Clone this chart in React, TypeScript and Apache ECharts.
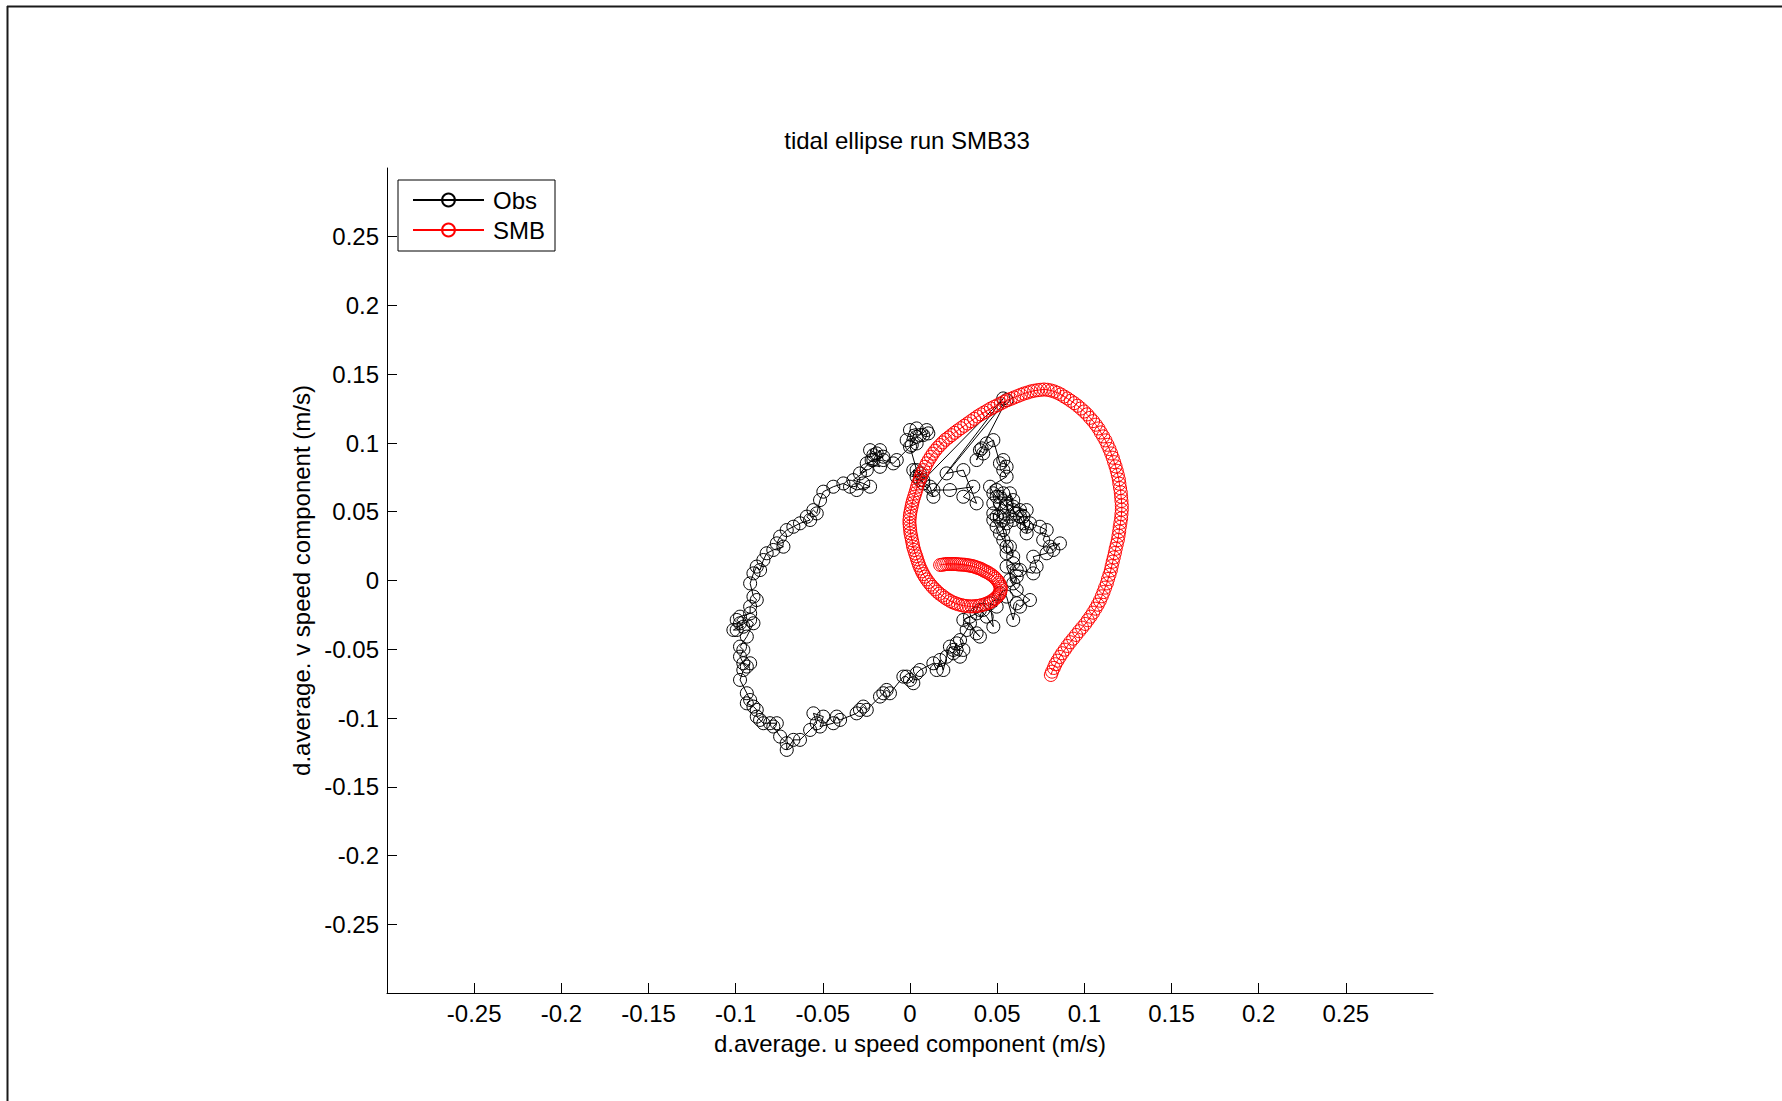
import React, { useEffect, useRef } from 'react';
import * as echarts from 'echarts';

const titleText = 'tidal ellipse run SMB33';
const xAxisName = 'd.average. u speed component (m/s)';
const yAxisName = 'd.average. v speed component (m/s)';
const axisMin = -0.3;
const axisMax = 0.3;
const xTicks = [-0.25, -0.2, -0.15, -0.1, -0.05, 0, 0.05, 0.1, 0.15, 0.2, 0.25];
const yTicks = [-0.25, -0.2, -0.15, -0.1, -0.05, 0, 0.05, 0.1, 0.15, 0.2, 0.25];
const seriesNames = ['Obs', 'SMB'];

// Observed depth-averaged velocity (u, v) in m/s
const obsData: number[][] = [
  [0.0401, -0.0214], [0.0440, -0.0263], [0.0478, -0.0336], [0.0459, -0.0166], [0.0497, -0.0190],
  [0.0516, -0.0093], [0.0554, -0.0117], [0.0592, -0.0287], [0.0612, -0.0166], [0.0631, -0.0190],
  [0.0688, -0.0142], [0.0612, -0.0069], [0.0573, 0.0004], [0.0612, 0.0028], [0.0592, -0.0021],
  [0.0554, 0.0101], [0.0592, 0.0125], [0.0612, 0.0076], [0.0631, 0.0076], [0.0707, 0.0052],
  [0.0726, 0.0101], [0.0707, 0.0173], [0.0784, 0.0198], [0.0803, 0.0246], [0.0860, 0.0270],
  [0.0822, 0.0222], [0.0764, 0.0295], [0.0784, 0.0367], [0.0745, 0.0391], [0.0688, 0.0416],
  [0.0669, 0.0343], [0.0650, 0.0464], [0.0631, 0.0512], [0.0669, 0.0512], [0.0592, 0.0537],
  [0.0554, 0.0561], [0.0573, 0.0464], [0.0554, 0.0416], [0.0535, 0.0367], [0.0554, 0.0246],
  [0.0554, 0.0198], [0.0592, 0.0173], [0.0573, 0.0246], [0.0535, 0.0295], [0.0516, 0.0343],
  [0.0497, 0.0391], [0.0478, 0.0440], [0.0478, 0.0488], [0.0516, 0.0464], [0.0478, 0.0561],
  [0.0516, 0.0609], [0.0497, 0.0658], [0.0535, 0.0634], [0.0592, 0.0585], [0.0573, 0.0634],
  [0.0592, 0.0512], [0.0612, 0.0488], [0.0631, 0.0464], [0.0650, 0.0416], [0.0669, 0.0391],
  [0.0592, 0.0440], [0.0535, 0.0440], [0.0497, 0.0464], [0.0516, 0.0561], [0.0554, 0.0537],
  [0.0497, 0.0609], [0.0478, 0.0634], [0.0459, 0.0682],
  [0.0554, 0.0755], [0.0535, 0.0803], [0.0554, 0.0827], [0.0535, 0.0876], [0.0516, 0.0852],
  [0.0478, 0.1021], [0.0440, 0.0997], [0.0420, 0.0924], [0.0401, 0.0948], [0.0382, 0.0876],
  [0.0411, 0.0961], [0.0554, 0.1312], [0.0210, 0.0779], [0.0306, 0.0803], [0.0382, 0.0561],
  [0.0306, 0.0609], [0.0363, 0.0682], [0.0229, 0.0658], [0.0134, 0.0658], [0.0535, 0.1324],
  [0.0076, 0.0730], [0.0057, 0.0779], [0.0019, 0.0803], [0.0038, 0.0755], [0.0057, 0.0730],
  [0.0115, 0.0682], [0.0134, 0.0609], [0.0076, 0.0706], [0.0038, 0.0803], [0.0000, 0.0973],
  [0.0038, 0.0997], [-0.0019, 0.1021], [0.0000, 0.1094], [0.0038, 0.1106], [0.0076, 0.1058],
  [0.0105, 0.1070], [0.0096, 0.1094], [0.0057, 0.1058], [0.0038, 0.1045], [0.0010, 0.0985],
  [-0.0076, 0.0876], [-0.0096, 0.0852], [-0.0153, 0.0876], [-0.0172, 0.0948], [-0.0210, 0.0912],
  [-0.0229, 0.0948], [-0.0191, 0.0924], [-0.0210, 0.0876], [-0.0172, 0.0827], [-0.0248, 0.0852],
  [-0.0153, 0.0900], [-0.0220, 0.0876], [-0.0287, 0.0779], [-0.0248, 0.0803], [-0.0325, 0.0730],
  [-0.0268, 0.0706], [-0.0229, 0.0682], [-0.0306, 0.0658], [-0.0344, 0.0682], [-0.0382, 0.0706],
  [-0.0440, 0.0682], [-0.0497, 0.0646], [-0.0516, 0.0585], [-0.0535, 0.0488], [-0.0554, 0.0512],
  [-0.0592, 0.0464], [-0.0573, 0.0440], [-0.0631, 0.0416], [-0.0669, 0.0391], [-0.0707, 0.0367],
  [-0.0745, 0.0319], [-0.0764, 0.0270], [-0.0726, 0.0246], [-0.0784, 0.0222], [-0.0822, 0.0198],
  [-0.0841, 0.0149], [-0.0860, 0.0076], [-0.0879, 0.0101], [-0.0898, 0.0052], [-0.0917, -0.0021],
  [-0.0898, -0.0117], [-0.0879, -0.0142], [-0.0917, -0.0190], [-0.0917, -0.0239], [-0.0975, -0.0263],
  [-0.0994, -0.0287], [-0.0975, -0.0311], [-0.0956, -0.0336], [-0.0994, -0.0360], [-0.1013, -0.0360],
  [-0.0917, -0.0287], [-0.0898, -0.0311], [-0.0936, -0.0408], [-0.0975, -0.0481], [-0.0956, -0.0505],
  [-0.0975, -0.0554], [-0.0956, -0.0602], [-0.0936, -0.0626], [-0.0917, -0.0602], [-0.0956, -0.0651],
  [-0.0975, -0.0723], [-0.0936, -0.0820], [-0.0917, -0.0869], [-0.0936, -0.0893], [-0.0898, -0.0917],
  [-0.0879, -0.0941], [-0.0879, -0.0990], [-0.0860, -0.1014], [-0.0841, -0.1038], [-0.0803, -0.1038],
  [-0.0764, -0.1038], [-0.0784, -0.1062], [-0.0745, -0.1135], [-0.0707, -0.1183], [-0.0707, -0.1232],
  [-0.0669, -0.1159], [-0.0631, -0.1159], [-0.0573, -0.1087], [-0.0535, -0.1038], [-0.0554, -0.0966],
  [-0.0497, -0.0990], [-0.0516, -0.1062], [-0.0440, -0.1038], [-0.0420, -0.0990], [-0.0401, -0.1014],
  [-0.0306, -0.0966], [-0.0287, -0.0941], [-0.0268, -0.0917], [-0.0248, -0.0941], [-0.0172, -0.0844],
  [-0.0153, -0.0820], [-0.0134, -0.0796], [-0.0115, -0.0820], [-0.0038, -0.0699], [-0.0019, -0.0699],
  [0.0000, -0.0723], [0.0019, -0.0747], [0.0038, -0.0675], [0.0057, -0.0651], [0.0134, -0.0602],
  [0.0153, -0.0651], [0.0172, -0.0578], [0.0191, -0.0651], [0.0210, -0.0554], [0.0229, -0.0481],
  [0.0248, -0.0505], [0.0268, -0.0457], [0.0248, -0.0529], [0.0287, -0.0554], [0.0306, -0.0505],
  [0.0287, -0.0433], [0.0325, -0.0360], [0.0344, -0.0311], [0.0382, -0.0384], [0.0401, -0.0408],
  [0.0306, -0.0287], [0.0344, -0.0263], [0.0382, -0.0239], [0.0420, -0.0214]
];

// Modelled (SMB) depth-averaged velocity (u, v) in m/s
const smbData: number[][] = [
  [0.0173, 0.0113], [0.0185, 0.0115], [0.0196, 0.0117], [0.0208, 0.0120], [0.0219, 0.0120],
  [0.0231, 0.0120], [0.0242, 0.0120], [0.0253, 0.0120], [0.0265, 0.0120], [0.0276, 0.0117],
  [0.0288, 0.0117], [0.0299, 0.0115], [0.0311, 0.0115], [0.0322, 0.0113], [0.0334, 0.0110],
  [0.0345, 0.0108], [0.0357, 0.0105], [0.0368, 0.0101], [0.0380, 0.0096], [0.0391, 0.0091],
  [0.0403, 0.0086], [0.0414, 0.0079], [0.0425, 0.0071], [0.0437, 0.0064], [0.0448, 0.0057],
  [0.0460, 0.0047], [0.0471, 0.0038], [0.0483, 0.0025], [0.0492, 0.0013], [0.0502, -0.0001],
  [0.0510, -0.0016], [0.0515, -0.0030], [0.0519, -0.0045], [0.0521, -0.0059], [0.0519, -0.0074],
  [0.0515, -0.0088], [0.0510, -0.0103], [0.0502, -0.0115], [0.0492, -0.0127], [0.0481, -0.0139],
  [0.0469, -0.0149], [0.0456, -0.0159], [0.0443, -0.0166], [0.0429, -0.0173], [0.0414, -0.0178],
  [0.0399, -0.0183], [0.0383, -0.0185], [0.0368, -0.0188], [0.0353, -0.0188], [0.0338, -0.0188],
  [0.0322, -0.0185], [0.0307, -0.0183], [0.0292, -0.0178], [0.0276, -0.0173], [0.0261, -0.0166],
  [0.0246, -0.0159], [0.0231, -0.0149], [0.0215, -0.0137], [0.0200, -0.0125], [0.0185, -0.0110],
  [0.0169, -0.0096], [0.0156, -0.0081], [0.0143, -0.0064], [0.0129, -0.0047], [0.0118, -0.0030],
  [0.0106, -0.0011], [0.0095, 0.0008], [0.0085, 0.0028], [0.0076, 0.0047], [0.0068, 0.0067],
  [0.0060, 0.0088], [0.0053, 0.0110], [0.0047, 0.0132], [0.0041, 0.0154], [0.0036, 0.0176],
  [0.0030, 0.0197], [0.0024, 0.0222], [0.0018, 0.0246], [0.0015, 0.0270], [0.0011, 0.0294],
  [0.0007, 0.0319], [0.0003, 0.0343], [0.0001, 0.0367], [-0.0001, 0.0391], [-0.0003, 0.0415],
  [-0.0003, 0.0440], [-0.0001, 0.0464], [0.0001, 0.0488], [0.0005, 0.0512], [0.0009, 0.0537],
  [0.0013, 0.0561], [0.0018, 0.0585], [0.0024, 0.0609], [0.0030, 0.0633], [0.0036, 0.0658],
  [0.0041, 0.0682], [0.0047, 0.0706], [0.0055, 0.0730], [0.0062, 0.0755], [0.0070, 0.0779],
  [0.0078, 0.0803], [0.0087, 0.0827], [0.0097, 0.0852], [0.0108, 0.0876], [0.0120, 0.0900],
  [0.0131, 0.0922], [0.0144, 0.0944], [0.0158, 0.0965], [0.0173, 0.0985], [0.0188, 0.1004],
  [0.0204, 0.1024], [0.0221, 0.1040], [0.0238, 0.1057], [0.0255, 0.1074], [0.0273, 0.1091],
  [0.0292, 0.1108], [0.0311, 0.1125], [0.0330, 0.1142], [0.0349, 0.1159], [0.0368, 0.1176],
  [0.0387, 0.1193], [0.0406, 0.1208], [0.0425, 0.1222], [0.0445, 0.1237], [0.0464, 0.1251],
  [0.0483, 0.1263], [0.0502, 0.1275], [0.0521, 0.1288], [0.0540, 0.1300], [0.0559, 0.1312],
  [0.0578, 0.1321], [0.0597, 0.1331], [0.0617, 0.1341], [0.0636, 0.1351], [0.0655, 0.1360],
  [0.0674, 0.1367], [0.0693, 0.1375], [0.0712, 0.1380], [0.0731, 0.1384], [0.0750, 0.1387],
  [0.0769, 0.1389], [0.0789, 0.1387], [0.0808, 0.1382], [0.0827, 0.1375], [0.0846, 0.1365],
  [0.0865, 0.1353], [0.0884, 0.1338], [0.0903, 0.1324], [0.0922, 0.1307], [0.0942, 0.1290],
  [0.0961, 0.1271], [0.0980, 0.1251], [0.0999, 0.1229], [0.1016, 0.1208], [0.1033, 0.1183],
  [0.1050, 0.1159], [0.1066, 0.1133], [0.1081, 0.1106], [0.1094, 0.1077], [0.1108, 0.1048],
  [0.1121, 0.1019], [0.1133, 0.0987], [0.1144, 0.0956], [0.1154, 0.0924], [0.1163, 0.0893],
  [0.1171, 0.0861], [0.1179, 0.0830], [0.1186, 0.0798], [0.1192, 0.0767], [0.1198, 0.0735],
  [0.1201, 0.0704], [0.1205, 0.0672], [0.1209, 0.0641], [0.1211, 0.0609], [0.1213, 0.0578],
  [0.1215, 0.0546], [0.1215, 0.0515], [0.1213, 0.0483], [0.1211, 0.0452], [0.1207, 0.0420],
  [0.1203, 0.0389], [0.1200, 0.0357], [0.1196, 0.0326], [0.1192, 0.0294], [0.1186, 0.0263],
  [0.1180, 0.0231], [0.1175, 0.0200], [0.1169, 0.0168], [0.1163, 0.0137], [0.1157, 0.0105],
  [0.1152, 0.0074], [0.1144, 0.0042], [0.1136, 0.0011], [0.1129, -0.0021], [0.1119, -0.0052],
  [0.1110, -0.0084], [0.1100, -0.0115], [0.1089, -0.0147], [0.1077, -0.0176], [0.1064, -0.0205],
  [0.1050, -0.0234], [0.1035, -0.0263], [0.1020, -0.0289], [0.1005, -0.0316], [0.0987, -0.0343],
  [0.0970, -0.0369], [0.0953, -0.0396], [0.0936, -0.0423], [0.0919, -0.0449], [0.0903, -0.0476],
  [0.0888, -0.0503], [0.0873, -0.0529], [0.0859, -0.0556], [0.0846, -0.0583], [0.0834, -0.0609],
  [0.0825, -0.0636], [0.0815, -0.0663], [0.0808, -0.0687]
];

const FONT = '"Liberation Sans", Arial, Helvetica, sans-serif';

export default function App() {
  const ref = useRef<HTMLDivElement>(null);

  useEffect(() => {
    if (!ref.current) return;
    const chart = echarts.init(ref.current, null, { renderer: 'svg' });

    const axisCommon = (ticks: number[], name: string, nameGap: number) => ({
      type: 'value',
      min: axisMin,
      max: axisMax,
      interval: 0.05,
      name,
      nameLocation: 'middle',
      nameGap,
      nameTextStyle: { fontSize: 24, color: '#000', fontFamily: FONT },
      axisLine: { show: true, onZero: false, lineStyle: { color: '#000', width: 1 } },
      axisTick: { show: true, inside: true, length: 10, customValues: ticks, lineStyle: { color: '#000', width: 1 } },
      axisLabel: { show: true, customValues: ticks, margin: 8, fontSize: 24, color: '#000', fontFamily: FONT },
      splitLine: { show: false },
    });

    chart.setOption({
      animation: false,
      backgroundColor: '#ffffff',
      textStyle: { fontFamily: FONT },
      title: {
        text: titleText,
        left: 907,
        top: 128,
        textAlign: 'center',
        padding: 0,
        textStyle: { fontSize: 24, fontWeight: 'normal', color: '#000', fontFamily: FONT },
      },
      legend: {
        data: seriesNames,
        orient: 'vertical',
        left: 398,
        top: 180,
        padding: [8, 10, 9, 14],
        itemGap: 6,
        itemWidth: 71,
        itemHeight: 16,
        backgroundColor: '#fff',
        borderColor: '#000',
        borderWidth: 1,
        borderRadius: 0,
        selectedMode: false,
        textStyle: { fontSize: 24, color: '#000', fontFamily: FONT, padding: [0, 0, 0, 4] },
      },
      grid: { left: 387, top: 168, right: 349, bottom: 108, containLabel: false },
      xAxis: axisCommon(xTicks, xAxisName, 38),
      yAxis: axisCommon(yTicks, yAxisName, 72),
      graphic: [
        { type: 'line', shape: { x1: 7, y1: 6.5, x2: 1782, y2: 6.5 }, style: { stroke: '#1a1a1a', lineWidth: 2 }, silent: true },
        { type: 'line', shape: { x1: 7.5, y1: 6, x2: 7.5, y2: 1101 }, style: { stroke: '#1a1a1a', lineWidth: 2 }, silent: true },
      ],
      series: [
        {
          name: seriesNames[0],
          type: 'line',
          data: obsData,
          symbol: 'circle',
          symbolSize: 13,
          showSymbol: true,
          lineStyle: { color: '#000', width: 1 },
          itemStyle: { color: 'rgba(0,0,0,0)', borderColor: '#000', borderWidth: 1 },
          emphasis: { disabled: true },
          z: 2,
        },
        {
          name: seriesNames[1],
          type: 'line',
          data: smbData,
          symbol: 'circle',
          symbolSize: 13,
          showSymbol: true,
          lineStyle: { color: '#ff0000', width: 1 },
          itemStyle: { color: 'rgba(0,0,0,0)', borderColor: '#ff0000', borderWidth: 1 },
          emphasis: { disabled: true },
          z: 3,
        },
      ],
    });

    return () => chart.dispose();
  }, []);

  return (
    <div
      ref={ref}
      style={{ position: 'absolute', left: 0, top: 0, width: 1782, height: 1101, background: '#fff' }}
    />
  );
}
